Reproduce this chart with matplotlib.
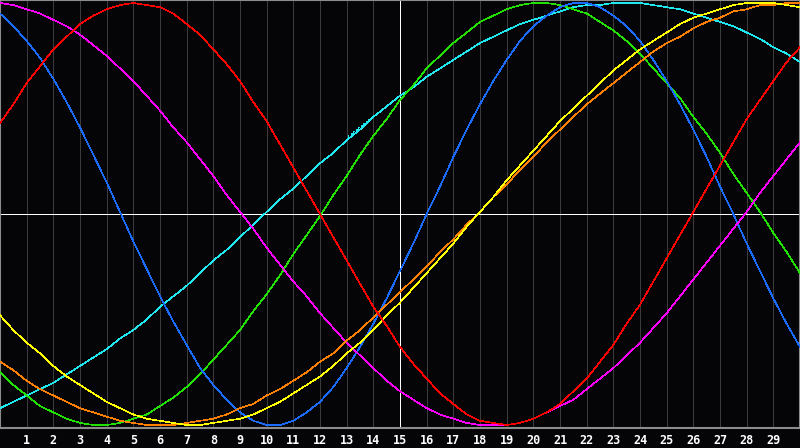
import numpy as np
import matplotlib
matplotlib.use("Agg")
import matplotlib.pyplot as plt

# sample positions (every half unit from 0 to 30)
x = np.linspace(0, 30, 61)

red = [43,52,62,70,78,84,90,94,97,99,100,99,98,95,90,85,78,71,63,53,44,33,22,11,0,-11,-22,-33,-44,-53,
       -63,-71,-78,-85,-90,-95,-98,-99,-100,-99,-97,-94,-90,-84,-78,-70,-62,-52,-43,-32,-21,-10,1,12,23,34,45,54,63,72,79]
magenta = [100,99,97,95,92,89,85,80,75,69,63,56,49,41,34,26,18,9,1,-7,-16,-24,-32,-39,-47,-54,-61,-67,-73,-79,
           -84,-88,-92,-95,-97,-99,-100,-100,-100,-99,-97,-94,-91,-88,-83,-78,-73,-67,-61,-54,-47,-39,-31,-23,-15,-7,1,10,18,26,34]
blue = [95,89,82,74,64,53,41,28,15,1,-13,-26,-39,-51,-62,-73,-81,-88,-94,-98,-100,-100,-98,-94,-89,-82,-73,-63,-52,-40,
        -27,-14,0,13,27,40,52,63,73,82,89,94,98,100,100,98,94,89,82,73,63,52,40,27,13,0,-14,-27,-40,-52,-63]
green = [-75,-81,-86,-91,-94,-97,-99,-100,-100,-99,-97,-95,-91,-87,-82,-76,-69,-62,-55,-46,-38,-29,-19,-10,-1,9,18,28,37,45,
         54,61,69,75,81,86,91,94,97,99,100,100,99,97,95,91,87,82,76,69,62,55,46,38,29,19,10,1,-9,-18,-28]
cyan = [-92,-89,-86,-83,-80,-76,-72,-68,-64,-59,-55,-50,-44,-39,-34,-28,-22,-17,-11,-5,1,7,12,18,24,29,35,40,46,51,
        56,60,65,69,73,77,81,84,87,90,92,94,96,98,99,99,100,100,100,99,98,97,95,93,91,89,86,83,79,76,72]
yellow = [-48,-55,-61,-66,-72,-77,-81,-85,-89,-92,-95,-97,-98,-99,-100,-100,-99,-98,-97,-95,-92,-89,-85,-81,-77,-72,-66,-61,-55,-48,
          -42,-35,-28,-21,-14,-6,1,8,16,23,30,37,44,50,56,62,68,73,78,82,86,90,93,95,97,99,100,100,100,99,98]
orange = [-70,-74,-79,-83,-86,-89,-92,-94,-96,-98,-99,-100,-100,-100,-99,-98,-97,-95,-92,-90,-86,-83,-79,-75,-70,-66,-60,-55,-49,-43,
          -37,-31,-25,-18,-12,-5,1,8,14,21,27,34,40,46,52,57,62,67,72,77,81,84,88,91,93,96,97,99,99,100,100]

series = [
    (cyan, "#20e8f0"),
    (green, "#22e000"),
    (blue, "#1a6cff"),
    (magenta, "#ff00ff"),
    (orange, "#ff7f00"),
    (yellow, "#ffff00"),
    (red, "#ff0000"),
]

tick_labels = [str(i) for i in range(1, 30)]

bg = "#050508"
fig = plt.figure(figsize=(8, 4.48), dpi=100, facecolor=bg)
ax = fig.add_axes([0, 20/448, 1, 428/448], facecolor=bg)

ax.set_xlim(0, 30)
ax.set_ylim(-101.4, 101.4)

px = 72 / 100  # one pixel in points
for v in range(1, 30):
    if v != 15:
        ax.axvline(v, color="#3c3c3c", lw=px, zorder=1, antialiased=False)
ax.axvline(15, color="#ffffff", lw=px, zorder=2, antialiased=False)
ax.axhline(0, color="#ffffff", lw=px, zorder=2, antialiased=False)

for vals, col in series:
    ax.plot(x, vals, color=col, lw=0.45, zorder=3, antialiased=False)

ax.set_xticks(range(1, 30))
ax.set_xticklabels(tick_labels, color="white", fontsize=8.5, fontweight="bold",
                   family="DejaVu Sans Mono")
ax.tick_params(axis="x", length=0, pad=4)
ax.set_yticks([])
for s in ax.spines.values():
    s.set_color("#8c8c8c")
    s.set_linewidth(1.5)

fig.savefig("out.png", dpi=100, facecolor=bg)
